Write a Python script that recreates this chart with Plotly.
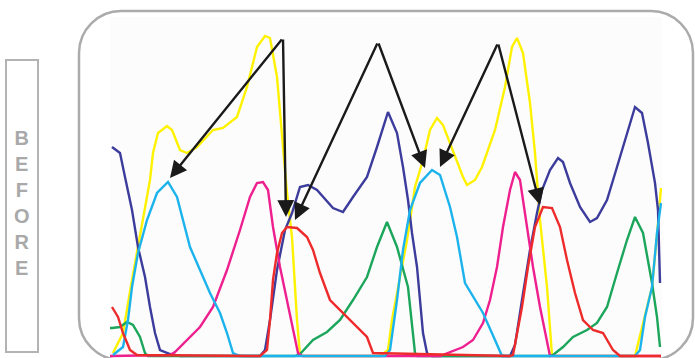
import plotly.graph_objects as go

# ---- data (scan position, signal intensity) ----
yellow_x = [3, 13, 22, 28, 33, 40, 43, 48, 57, 62, 70, 77, 87, 103, 113, 127, 137, 147, 155, 160, 167, 172, 177, 182, 187, 190, 193,
            270, 278, 282, 288, 297, 305, 313, 320, 327, 333, 340, 353, 357, 365, 372, 385, 395, 402, 407, 413, 420, 425, 430, 437, 442, 445,
            525, 535, 542, 547, 551]
yellow_y = [3, 23, 76, 109, 136, 176, 203, 223, 230, 226, 206, 203, 209, 226, 228, 239, 269, 309, 320, 318, 279, 219, 163, 119, 36, 1, 0,
            0, 6, 36, 69, 116, 169, 196, 226, 238, 231, 213, 179, 171, 176, 189, 226, 269, 309, 318, 303, 253, 203, 136, 69, 1, 0,
            0, 39, 69, 121, 168]

navy_x = [2, 10, 15, 22, 28, 35, 40, 45, 50, 60, 70, 150, 155, 160, 167, 175, 182, 190, 198, 207, 223, 233, 243, 257, 267, 278,
          287, 293, 298, 302, 307, 310, 313, 317, 322, 400, 405, 412, 420, 427, 432, 440, 448, 453, 460, 470, 480, 487, 497, 507,
          517, 525, 532, 538, 545, 548, 550]
navy_y = [209, 203, 179, 146, 109, 79, 49, 23, 6, 2, 0, 0, 6, 36, 86, 126, 143, 169, 171, 166, 148, 144, 159, 179, 209, 244,
          223, 189, 156, 123, 89, 56, 23, 3, 0, 0, 11, 56, 106, 143, 166, 186, 198, 194, 173, 149, 134, 138, 156, 189,
          223, 249, 243, 213, 173, 146, 73]

green_x = [0, 2, 10, 17, 23, 30, 35, 38, 185, 190, 203, 217, 230, 243, 257, 267, 277, 287, 298, 305, 307,
           440, 443, 453, 463, 477, 487, 497, 507, 517, 525, 533, 542, 547, 550]
green_y = [28, 28, 29, 34, 31, 19, 3, 0, 0, 2, 16, 24, 36, 56, 79, 109, 134, 109, 69, 3, 0,
           0, 1, 9, 19, 26, 33, 49, 83, 116, 139, 123, 73, 39, 9]

magenta_x = [0, 60, 65, 77, 90, 103, 117, 130, 140, 147, 153, 158, 163, 170, 177, 183, 188, 192,
             330, 353, 363, 373, 380, 387, 393, 400, 405, 410, 417, 423, 430, 437, 440, 551]
magenta_y = [0, 1, 4, 16, 29, 49, 86, 126, 159, 173, 174, 166, 129, 89, 56, 26, 3, 0,
             0, 9, 16, 33, 56, 89, 129, 166, 184, 176, 129, 89, 49, 16, 0, 0]

cyan_x = [3, 13, 18, 22, 28, 37, 47, 58, 67, 73, 80, 90, 100, 110, 117, 123, 130,
          275, 280, 287, 293, 300, 310, 322, 330, 340, 347, 355, 365, 373, 385, 392,
          525, 530, 535, 542, 547, 551]
cyan_y = [1, 9, 36, 69, 103, 136, 163, 174, 159, 136, 109, 86, 63, 43, 23, 3, 0,
          0, 6, 56, 106, 146, 173, 186, 181, 149, 119, 73, 56, 43, 16, 0,
          0, 6, 39, 69, 123, 153]

red_x = [2, 8, 13, 20, 27, 150, 157, 160, 163, 167, 172, 177, 187, 197, 203, 210, 220, 233, 250, 257, 263,
         400, 403, 412, 418, 425, 433, 442, 450, 457, 465, 473, 483, 493, 503, 510, 551]
red_y = [49, 39, 23, 6, 1, 0, 6, 36, 76, 103, 123, 129, 128, 119, 106, 83, 56, 43, 26, 19, 3,
         0, 1, 49, 89, 129, 149, 148, 129, 96, 63, 36, 26, 23, 6, 0, 0]

# arrows: tail (shared apex) -> head (peak)
arrow_tail_x = [173, 173, 268, 268, 388, 388]
arrow_tail_y = [318, 318, 314, 314, 313, 313]
arrow_head_x = [60, 176, 185, 315, 330, 430]
arrow_head_y = [178, 139, 136, 188, 189, 151]

label_text = "BEFORE"

# ---- figure ----
W, H = 695, 358
L, R, T, B = 110, 662, 17, 358


def to_paper(px, py):
    return (px - L) / (R - L), (B - py) / (B - T)


def rounded_path(x0, y0, x1, y1, r):
    def p(x, y):
        a, b = to_paper(x, y)
        return f"{a:.5f},{b:.5f}"
    k = 0.45
    path = (f"M {p(x0 + r, y0)} L {p(x1 - r, y0)} "
            f"C {p(x1 - r * k, y0)} {p(x1, y0 + r * k)} {p(x1, y0 + r)} "
            f"L {p(x1, y1 - r)} "
            f"C {p(x1, y1 - r * k)} {p(x1 - r * k, y1)} {p(x1 - r, y1)} "
            f"L {p(x0 + r, y1)} "
            f"C {p(x0 + r * k, y1)} {p(x0, y1 - r * k)} {p(x0, y1 - r)} "
            f"L {p(x0, y0 + r)} "
            f"C {p(x0, y0 + r * k)} {p(x0 + r * k, y0)} {p(x0 + r, y0)} Z")
    return path


fig = go.Figure()
series = [
    ("yellow", yellow_x, yellow_y, "#fff200"),
    ("navy", navy_x, navy_y, "#3c3c9c"),
    ("green", green_x, green_y, "#1ca65c"),
    ("magenta", magenta_x, magenta_y, "#ee1f8e"),
    ("cyan", cyan_x, cyan_y, "#1cb3ec"),
    ("red", red_x, red_y, "#ee2b2b"),
]
for name, xs, ys, col in series:
    fig.add_trace(go.Scatter(x=xs, y=ys, mode="lines", name=name,
                             line=dict(color=col, width=2.4), hoverinfo="skip"))

for tx, ty, hx, hy in zip(arrow_tail_x, arrow_tail_y, arrow_head_x, arrow_head_y):
    fig.add_annotation(x=hx, y=hy, ax=tx, ay=ty, xref="x", yref="y", axref="x", ayref="y",
                       text="", showarrow=True, arrowhead=2, arrowsize=1.4, arrowwidth=2.4,
                       arrowcolor="#1a1a1a", standoff=0, startstandoff=0)

shapes = [
    dict(type="path", xref="paper", yref="paper", path=rounded_path(79, 11, 693, 360, 42),
         line=dict(color="#ababab", width=2.5), fillcolor="rgba(0,0,0,0)", layer="below"),
]
bx0, by0 = to_paper(6, 60)
bx1, by1 = to_paper(38, 352)
shapes.append(dict(type="rect", xref="paper", yref="paper", x0=bx0, y0=by1, x1=bx1, y1=by0,
                   line=dict(color="#b3b3b3", width=2), fillcolor="rgba(0,0,0,0)"))

lx, ly = to_paper(22, 203)
fig.add_annotation(x=lx, y=ly, xref="paper", yref="paper", showarrow=False,
                   text="<br>".join(list(label_text)),
                   font=dict(family="Liberation Sans, Arial, sans-serif",
                             size=20, color="#a9a9a9", weight="bold"),
                   xanchor="center", yanchor="middle", align="center")

fig.update_layout(
    width=W, height=H, margin=dict(l=L, r=W - R, t=T, b=H - B, pad=0),
    paper_bgcolor="white", plot_bgcolor="#fcfcfc", showlegend=False, shapes=shapes,
    xaxis=dict(range=[0, 552], visible=False, showgrid=False, zeroline=False, fixedrange=True),
    yaxis=dict(range=[-2, 339], visible=False, showgrid=False, zeroline=False, fixedrange=True),
)

fig.write_html("out.html", config={"displayModeBar": False},
               post_script="document.body.style.margin='0';document.body.style.overflow='hidden';")
